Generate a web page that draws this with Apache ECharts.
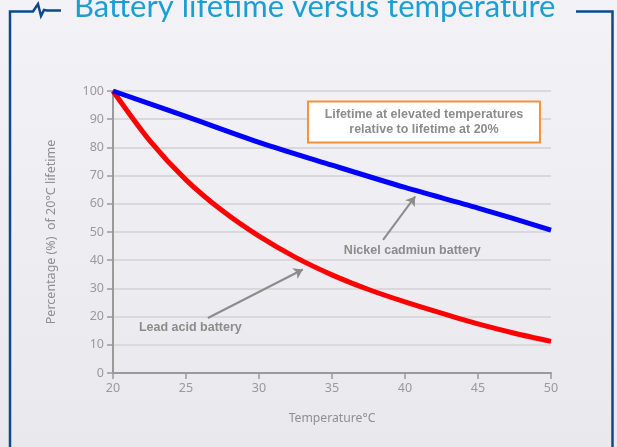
<!DOCTYPE html>
<html>
<head>
<meta charset="utf-8">
<script src="https://cdn.jsdelivr.net/npm/echarts@6/dist/echarts.min.js"></script>
<style>
  html, body { margin: 0; padding: 0; }
  #main { width: 617px; height: 447px; }
</style>
</head>
<body>
<div id="main"></div>
<script>
// temperatures (°C) and lifetime relative to 20°C (%)
const nicadTemps = [20, 25, 30, 35, 40, 45, 50];
const nicadLife = [100, 91, 81.8, 73.7, 65.8, 58.5, 50.7];
const leadTemps = [20, 22.5, 25, 27.5, 30, 32.5, 35, 37.5, 40, 42.5, 45, 47.5, 50];
const leadLife = [100, 82.5, 68.5, 57.5, 48.5, 41, 34.8, 29.6, 25.2, 21.2, 17.4, 14.1, 11.2];

const zip = (xs, ys) => xs.map((x, i) => [x, ys[i]]);

const grey = '#8c8c8c';
const axisGrey = '#9a9a9a';
const frameColor = '#0d4a8c';

const chart = echarts.init(document.getElementById('main'));

chart.setOption({
  backgroundColor: new echarts.graphic.LinearGradient(0, 0, 0, 1, [
    { offset: 0, color: '#f2f2f7' },
    { offset: 1, color: '#e8e8ed' }
  ]),
  animation: false,
  grid: { left: 113, right: 66, top: 91, bottom: 74 },
  xAxis: {
    type: 'value',
    min: 20, max: 50, interval: 5,
    name: 'Temperature°C',
    nameLocation: 'middle',
    nameGap: 40,
    nameTextStyle: { color: '#8f8f8f', fontSize: 12.2, fontFamily: 'Noto Sans' },
    axisLine: { lineStyle: { color: axisGrey, width: 2 } },
    axisTick: { show: true, length: 6, lineStyle: { color: axisGrey, width: 1.5 } },
    axisLabel: { color: axisGrey, fontSize: 12.5, margin: 9, fontFamily: 'Noto Sans' },
    splitLine: { show: false }
  },
  yAxis: {
    type: 'value',
    min: 0, max: 100, interval: 10,
    name: 'Percentage (%)  of 20°C lifetime',
    nameLocation: 'middle',
    nameGap: 55,
    nameTextStyle: { color: '#8f8f8f', fontSize: 12.5, fontFamily: 'Noto Sans' },
    axisLine: { show: true, lineStyle: { color: axisGrey, width: 2 } },
    axisTick: { show: true, length: 6, lineStyle: { color: axisGrey, width: 1.5 } },
    axisLabel: { color: axisGrey, fontSize: 12.5, margin: 9, fontFamily: 'Noto Sans' },
    splitLine: { lineStyle: { color: '#d9d9dc', width: 2 } }
  },
  series: [
    {
      name: 'Nickel cadmiun battery',
      type: 'line',
      data: zip(nicadTemps, nicadLife),
      smooth: 0.3,
      symbol: 'none',
      lineStyle: { color: '#0000ff', width: 5 },
      z: 3,
      markLine: {
        silent: true,
        symbol: ['none', 'arrow'],
        symbolSize: 9,
        label: { show: false },
        lineStyle: { color: '#8c8c8c', width: 2, type: 'solid' },
        data: [[{ coord: [38.5, 47.2] }, { coord: [40.7, 62.6] }]]
      },
      markPoint: {
        silent: true,
        symbol: 'circle',
        symbolSize: 0,
        label: {
          show: true,
          formatter: 'Nickel cadmiun battery',
          color: grey,
          fontWeight: 'bold',
          fontSize: 12.5,
          fontFamily: 'Liberation Sans'
        },
        data: [{ coord: [40.5, 43.6] }]
      }
    },
    {
      name: 'Lead acid battery',
      type: 'line',
      data: zip(leadTemps, leadLife),
      smooth: 0.3,
      symbol: 'none',
      lineStyle: { color: '#ff0000', width: 5 },
      z: 2,
      markLine: {
        silent: true,
        symbol: ['none', 'arrow'],
        symbolSize: 9,
        label: { show: false },
        lineStyle: { color: '#8c8c8c', width: 2, type: 'solid' },
        data: [[{ coord: [26.5, 19.5] }, { coord: [33.0, 36.7] }]]
      },
      markPoint: {
        silent: true,
        symbol: 'circle',
        symbolSize: 0,
        label: {
          show: true,
          color: grey,
          fontWeight: 'bold',
          fontSize: 12.5,
          fontFamily: 'Liberation Sans'
        },
        data: [
          { coord: [25.3, 16], label: { formatter: 'Lead acid battery' } },
          {
            coord: [41.3, 89.0],
            label: {
              formatter: 'Lifetime at elevated temperatures\nrelative to lifetime at 20%',
              backgroundColor: '#ffffff',
              borderColor: '#f7923a',
              borderWidth: 2,
              width: 216,
              align: 'center',
              lineHeight: 15,
              padding: [5, 7, 4, 7]
            }
          }
        ]
      }
    }
  ],
  graphic: [
    {
      type: 'polyline',
      shape: { points: [[10, 447], [10, 11.5], [33, 11.5], [38, 4], [41, 16], [44, 10], [47, 10.5], [61, 10.5]] },
      style: { stroke: frameColor, lineWidth: 2.5, fill: null }
    },
    {
      type: 'polyline',
      shape: { points: [[576, 11.5], [612.5, 11.5], [612.5, 447]] },
      style: { stroke: frameColor, lineWidth: 2.5, fill: null }
    },
    {
      type: 'text',
      left: 74,
      top: -9,
      style: {
        text: 'Battery lifetime versus temperature',
        fill: '#1a9fd4',
        font: '31px Lato'
      }
    }
  ]
});
</script>
</body>
</html>
